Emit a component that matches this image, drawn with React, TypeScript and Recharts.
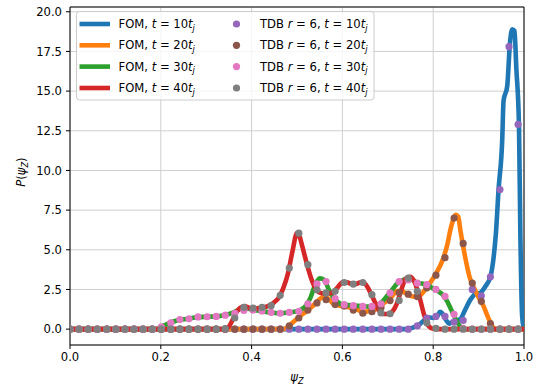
import React from 'react';
import { LineChart, Line, XAxis, YAxis, CartesianGrid, ReferenceArea } from 'recharts';

// ---------- data ----------
const xTicks = [0, 0.2, 0.4, 0.6, 0.8, 1.0];
const yTicks = [0, 2.5, 5, 7.5, 10, 12.5, 15, 17.5, 20];

const legendTimes = [10, 20, 30, 40];
const fomColors = ['#1f77b4', '#ff7f0e', '#2ca02c', '#d62728'];
const tdbColors = ['#9467bd', '#8c564b', '#e377c2', '#7f7f7f'];

// FOM, t = 10 t_j
const fom10X = [0, 0.74, 0.75, 0.76, 0.77, 0.78, 0.79, 0.80, 0.81, 0.815, 0.82, 0.83, 0.835, 0.845, 0.86, 0.87, 0.882, 0.892, 0.904, 0.915, 0.926, 0.933, 0.938, 0.944, 0.952, 0.955, 0.963, 0.969, 0.974, 0.979, 0.983, 0.989, 0.992, 0.996, 1.0];
const fom10Y = [0, 0, 0.05, 0.15, 0.3, 0.55, 0.75, 0.7, 0.85, 1.1, 1.0, 0.5, 0.35, 0.5, 0.65, 1.2, 1.86, 2.2, 2.3, 2.7, 3.3, 4.5, 6.0, 8.8, 11.9, 14.4, 15.3, 18.0, 18.9, 18.8, 16.5, 12.75, 6.0, 0.8, 0];

// FOM, t = 20 t_j
const fom20X = [0, 0.47, 0.48, 0.49, 0.50, 0.51, 0.52, 0.53, 0.54, 0.55, 0.56, 0.57, 0.58, 0.59, 0.60, 0.61, 0.62, 0.63, 0.64, 0.65, 0.66, 0.67, 0.68, 0.69, 0.70, 0.71, 0.72, 0.73, 0.74, 0.75, 0.76, 0.77, 0.78, 0.79, 0.80, 0.81, 0.82, 0.83, 0.84, 0.85, 0.855, 0.86, 0.87, 0.88, 0.89, 0.90, 0.91, 0.92, 0.93, 0.935, 1.0];
const fom20Y = [0, 0, 0.15, 0.4, 0.65, 0.9, 1.1, 1.35, 1.6, 1.9, 2.05, 1.9, 1.6, 1.5, 1.45, 1.4, 1.35, 1.25, 1.15, 1.1, 1.15, 1.2, 1.35, 1.6, 1.85, 2.1, 2.4, 2.4, 2.25, 2.1, 2.05, 2.1, 2.4, 2.8, 3.2, 3.7, 4.3, 5.2, 6.5, 7.2, 7.1, 6.2, 4.6, 3.3, 2.6, 2.0, 1.5, 0.8, 0.2, 0, 0];

// FOM, t = 30 t_j
const fom30X = [0, 0.19, 0.20, 0.21, 0.22, 0.23, 0.24, 0.26, 0.28, 0.30, 0.32, 0.34, 0.35, 0.36, 0.37, 0.38, 0.39, 0.40, 0.42, 0.44, 0.46, 0.48, 0.50, 0.51, 0.52, 0.53, 0.54, 0.55, 0.56, 0.57, 0.58, 0.59, 0.60, 0.62, 0.64, 0.66, 0.67, 0.68, 0.69, 0.70, 0.71, 0.72, 0.73, 0.74, 0.75, 0.76, 0.77, 0.78, 0.79, 0.80, 0.81, 0.82, 0.83, 0.84, 0.85, 0.86, 0.867, 1.0];
const fom30Y = [0, 0, 0.15, 0.27, 0.4, 0.5, 0.58, 0.65, 0.75, 0.78, 0.8, 0.88, 0.95, 1.05, 1.2, 1.3, 1.3, 1.22, 1.15, 1.05, 1.0, 1.05, 1.12, 1.25, 1.5, 2.0, 2.8, 3.2, 3.1, 2.5, 2.0, 1.7, 1.55, 1.5, 1.45, 1.42, 1.45, 1.55, 1.8, 2.15, 2.5, 2.85, 3.05, 3.15, 3.15, 3.0, 2.9, 2.85, 2.75, 2.55, 2.4, 2.2, 1.8, 1.2, 0.6, 0.15, 0, 0];

// FOM, t = 40 t_j
const fom40X = [0, 0.34, 0.345, 0.35, 0.355, 0.36, 0.365, 0.37, 0.375, 0.38, 0.385, 0.39, 0.40, 0.41, 0.42, 0.43, 0.44, 0.45, 0.46, 0.47, 0.48, 0.49, 0.50, 0.505, 0.51, 0.52, 0.53, 0.54, 0.55, 0.56, 0.57, 0.58, 0.59, 0.60, 0.61, 0.62, 0.63, 0.64, 0.65, 0.66, 0.67, 0.68, 0.69, 0.70, 0.71, 0.72, 0.73, 0.74, 0.75, 0.76, 0.77, 0.78, 0.79, 0.80, 0.81, 1.0];
const fom40Y = [0, 0, 0.05, 0.15, 0.4, 0.7, 1.0, 1.2, 1.35, 1.42, 1.45, 1.4, 1.3, 1.3, 1.35, 1.4, 1.5, 1.7, 2.0, 2.6, 3.5, 4.9, 6.05, 5.9, 5.4, 4.3, 3.3, 2.6, 2.3, 2.25, 2.25, 2.35, 2.65, 2.95, 2.95, 2.85, 2.85, 2.95, 2.85, 2.4, 1.8, 1.2, 0.95, 0.95, 1.1, 1.6, 2.5, 3.2, 3.3, 2.9, 2.0, 0.9, 0.2, 0.02, 0, 0];

// TDB r = 6 sample positions
const tdbX = [
  0.000, 0.020, 0.040, 0.060, 0.081, 0.101, 0.121, 0.141, 0.161, 0.181,
  0.201, 0.222, 0.242, 0.262, 0.282, 0.302, 0.322, 0.342, 0.363, 0.383,
  0.403, 0.423, 0.443, 0.463, 0.483, 0.504, 0.524, 0.544, 0.564, 0.584,
  0.604, 0.624, 0.645, 0.665, 0.685, 0.705, 0.725, 0.745, 0.765, 0.786,
  0.806, 0.826, 0.846, 0.866, 0.886, 0.906, 0.926, 0.947, 0.967, 0.987,
];
const tdb10Y = [
  0, 0, 0, 0, 0, 0, 0, 0, 0, 0,
  0, 0, 0, 0, 0, 0, 0, 0, 0, 0,
  0, 0, 0, 0, 0, 0, 0, 0, 0, 0,
  0, 0, 0, 0, 0, 0, 0, 0, 0.2, 0.7,
  0.8, 0.8, 0.45, 0.55, 2.5, 2.1, 3.3, 8.8, 17.8, 12.9,
];
const tdb20Y = [
  0, 0, 0, 0, 0, 0, 0, 0, 0, 0,
  0, 0, 0, 0, 0, 0, 0, 0, 0, 0,
  0, 0, 0, 0, 0.2, 0.7, 1.2, 1.65, 1.85, 1.55,
  1.45, 1.2, 1.0, 1.1, 1.35, 1.8, 2.3, 2.2, 2.05, 2.6,
  3.4, 4.5, 7.0, 5.4, 2.9, 1.75, 0.35, 0, 0, 0,
];
const tdb30Y = [
  0, 0, 0, 0, 0, 0, 0, 0, 0, 0,
  0.14, 0.4, 0.6, 0.65, 0.77, 0.78, 0.8, 0.88, 1.0, 1.18,
  1.2, 1.15, 1.06, 1.0, 1.05, 1.12, 1.6, 2.85, 3.0, 1.92,
  1.54, 1.48, 1.43, 1.43, 1.6, 2.28, 3.0, 3.1, 2.9, 2.8,
  2.5, 2.06, 0.93, 0.05, 0, 0, 0, 0, 0, 0,
];
const tdb40Y = [
  0, 0, 0, 0, 0, 0, 0, 0, 0, 0,
  0, 0, 0, 0, 0, 0, 0, 0.03, 0.7, 1.37,
  1.33, 1.37, 1.48, 2.13, 3.85, 6.05, 4.06, 2.48, 2.28, 2.38,
  2.94, 2.84, 2.94, 2.17, 1.02, 0.97, 1.81, 3.22, 2.38, 0.4,
  0.05, 0, 0, 0, 0, 0, 0, 0, 0, 0,
];

// ---------- helpers ----------
const zip = (xs: number[], ys: number[]) => xs.map((x, i) => ({ x, y: ys[i] }));

const fomSeries = [zip(fom10X, fom10Y), zip(fom20X, fom20Y), zip(fom30X, fom30Y), zip(fom40X, fom40Y)];
const tdbSeries = [zip(tdbX, tdb10Y), zip(tdbX, tdb20Y), zip(tdbX, tdb30Y), zip(tdbX, tdb40Y)];

const W = 534;
const H = 389;
const FONT = 'DejaVu Sans';
const FS = 11.6;
const SUB = 8.2;
const LW = 4.6;
const DOT_R = 3.6;

const tickStyle = { fill: '#000', fontSize: FS, fontFamily: FONT };

const rowY = [24, 45.3, 66.6, 88];

function Legend() {
  return (
    <g fontFamily={FONT} fontSize={FS} fill="#000">
      <rect x={76.5} y={11.5} width={297.5} height={88.5} rx={3} ry={3} fill="#fff" fillOpacity={0.8} stroke="#cccccc" strokeWidth={1} />
      {legendTimes.map((t, i) => (
        <g key={i}>
          <line x1={79.5} x2={110} y1={rowY[i]} y2={rowY[i]} stroke={fomColors[i]} strokeWidth={LW} />
          <text x={118.5} y={rowY[i] + 4}>
            {'FOM, '}
            <tspan fontStyle="italic">t</tspan>
            {' = ' + t}
            <tspan fontStyle="italic">t</tspan>
            <tspan fontStyle="italic" fontSize={SUB} dy={2.6}>j</tspan>
          </text>
          <circle cx={236.5} cy={rowY[i]} r={DOT_R} fill={tdbColors[i]} />
          <text x={260} y={rowY[i] + 4}>
            {'TDB '}
            <tspan fontStyle="italic">r</tspan>
            {' = 6, '}
            <tspan fontStyle="italic">t</tspan>
            {' = ' + t}
            <tspan fontStyle="italic">t</tspan>
            <tspan fontStyle="italic" fontSize={SUB} dy={2.6}>j</tspan>
          </text>
        </g>
      ))}
    </g>
  );
}

export default function App() {
  return (
    <div style={{ position: 'absolute', left: 0, top: 0, width: W, height: H, background: '#fff' }}>
      <LineChart width={W} height={H} margin={{ top: 7, right: 10, bottom: 0, left: 0 }}>
        <CartesianGrid stroke="#cfcfcf" strokeWidth={1} />
        <XAxis
          type="number"
          dataKey="x"
          domain={[0, 1]}
          ticks={xTicks}
          allowDataOverflow
          tickFormatter={(v: number) => v.toFixed(1)}
          height={44}
          tickSize={4}
          tickMargin={4}
          axisLine={false}
          tickLine={{ stroke: '#000' }}
          tick={tickStyle}
          interval={0}
        />
        <YAxis
          type="number"
          domain={[-1, 20.3]}
          ticks={yTicks}
          allowDataOverflow
          tickFormatter={(v: number) => v.toFixed(1)}
          width={70}
          tickSize={4}
          tickMargin={4}
          axisLine={false}
          tickLine={{ stroke: '#000' }}
          tick={tickStyle}
          interval={0}
        />
        {fomSeries.map((d, i) => (
          <Line
            key={'fom' + i}
            data={d}
            dataKey="y"
            type="monotone"
            stroke={fomColors[i]}
            strokeWidth={LW}
            strokeLinejoin="round"
            dot={false}
            activeDot={false}
            isAnimationActive={false}
          />
        ))}
        {tdbSeries.map((d, i) => (
          <Line
            key={'tdb' + i}
            data={d}
            dataKey="y"
            stroke="none"
            strokeWidth={0}
            dot={{ r: DOT_R, fill: tdbColors[i], stroke: 'none', strokeWidth: 0 }}
            activeDot={false}
            isAnimationActive={false}
          />
        ))}
        <ReferenceArea x1={0} x2={1} y1={-1} y2={20.3} fill="none" fillOpacity={0} stroke="#000" strokeWidth={1} ifOverflow="visible" />
      </LineChart>
      <svg width={W} height={H} style={{ position: 'absolute', left: 0, top: 0, pointerEvents: 'none' }}>
        <Legend />
        <text x={297} y={381} textAnchor="middle" fontFamily={FONT} fontSize={FS} fill="#000">
          <tspan fontStyle="italic">ψ</tspan>
          <tspan fontStyle="italic" fontSize={SUB} dy={2.6}>Z</tspan>
        </text>
        <text transform="translate(25,172) rotate(-90)" textAnchor="middle" fontFamily={FONT} fontSize={FS} fill="#000">
          <tspan fontStyle="italic">P</tspan>
          {'('}
          <tspan fontStyle="italic">ψ</tspan>
          <tspan fontStyle="italic" fontSize={SUB} dy={2.6}>Z</tspan>
          <tspan dy={-2.6}>)</tspan>
        </text>
      </svg>
    </div>
  );
}
